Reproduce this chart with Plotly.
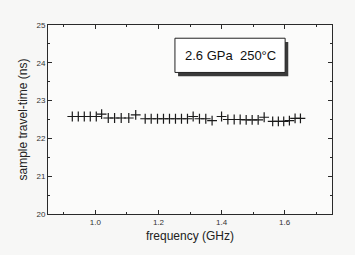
import plotly.graph_objects as go

# Data
freq_ghz = [0.927, 0.946, 0.965, 0.984, 1.003, 1.020,
            1.041, 1.061, 1.082, 1.106, 1.128,
            1.158, 1.177, 1.197, 1.216, 1.235, 1.254, 1.273, 1.292, 1.310,
            1.330, 1.350, 1.370, 1.400,
            1.420, 1.440, 1.459, 1.478, 1.497, 1.516, 1.535,
            1.562, 1.580, 1.597, 1.615, 1.633, 1.650]
travel_ns = [22.58, 22.58, 22.58, 22.58, 22.58, 22.64,
             22.54, 22.54, 22.54, 22.54, 22.62,
             22.52, 22.52, 22.52, 22.52, 22.52, 22.52, 22.52, 22.52, 22.58,
             22.52, 22.52, 22.47, 22.58,
             22.50, 22.50, 22.50, 22.49, 22.49, 22.49, 22.56,
             22.45, 22.45, 22.45, 22.47, 22.53, 22.53]

x_range = [0.85, 1.75]
y_range = [20, 25]
x_ticks = [1.0, 1.2, 1.4, 1.6]
x_tick_labels = ["1.0", "1.2", "1.4", "1.6"]
y_ticks = [20, 21, 22, 23, 24, 25]
y_tick_labels = ["20", "21", "22", "23", "24", "25"]
label_text = "2.6 GPa  250°C"

FONT = "Liberation Sans, Arial, sans-serif"

fig = go.Figure()
fig.add_trace(go.Scatter(
    x=freq_ghz, y=travel_ns, mode="markers",
    marker=dict(symbol="cross-thin", size=7,
                line=dict(width=1.2, color="#1a1a1a")),
    showlegend=False, hoverinfo="x+y"))

axis_common = dict(
    showline=True, linecolor="#2a2a2a", linewidth=1, mirror="ticks",
    ticks="inside", ticklen=4, tickwidth=1, tickcolor="#2a2a2a",
    showgrid=False, zeroline=False,
    tickfont=dict(family=FONT, size=8, color="#333333"),
)

fig.update_xaxes(range=x_range, tickvals=x_ticks, ticktext=x_tick_labels,
                 minor=dict(dtick=0.1, tick0=0.9, ticks="inside", ticklen=2,
                            tickcolor="#2a2a2a", showgrid=False),
                 title=dict(text="frequency (GHz)", standoff=6,
                            font=dict(family=FONT, size=12, color="#222222")),
                 **axis_common)
fig.update_yaxes(range=y_range, tickvals=y_ticks, ticktext=y_tick_labels,
                 minor=dict(dtick=0.5, tick0=20, ticks="inside", ticklen=2,
                            tickcolor="#2a2a2a", showgrid=False),
                 title=dict(text="sample travel-time (ns)", standoff=6,
                            font=dict(family=FONT, size=12, color="#222222")),
                 **axis_common)

# Label box with drop shadow (fractions of the plot area; 0 = bottom/left)
bx0, bx1 = 0.447, 0.835
by_bottom, by_top = 0.749, 0.93
dx, dy = 0.011, 0.02
fig.add_shape(type="rect", xref="x domain", yref="y domain", layer="above",
              x0=bx0 + dx, x1=bx1 + dx, y0=by_bottom - dy, y1=by_top - dy,
              fillcolor="#3a3a3a", line=dict(width=0))
fig.add_shape(type="rect", xref="x domain", yref="y domain", layer="above",
              x0=bx0, x1=bx1, y0=by_bottom, y1=by_top,
              fillcolor="#ffffff", line=dict(width=1, color="#222222"))
fig.add_annotation(xref="x domain", yref="y domain",
                   x=(bx0 + bx1) / 2, y=(by_bottom + by_top) / 2,
                   yanchor="middle", xanchor="center",
                   text=label_text, showarrow=False,
                   font=dict(family=FONT, size=13, color="#111111"))

fig.update_layout(
    width=355, height=255,
    margin=dict(l=48, r=23, t=25, b=41),
    paper_bgcolor="#f7f7f6", plot_bgcolor="#fbfbfa",
)

fig.write_html("out.html")
